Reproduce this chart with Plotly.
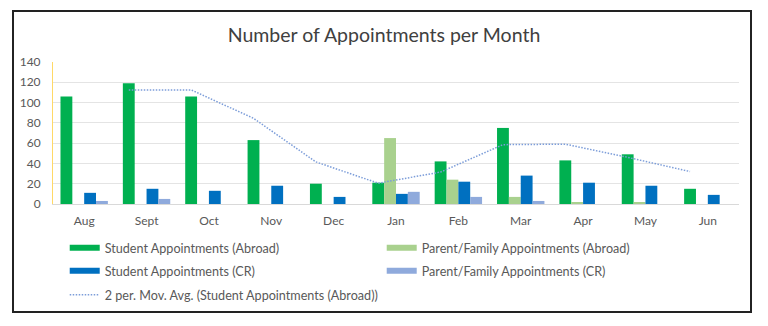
import plotly.graph_objects as go

months = ["Aug", "Sept", "Oct", "Nov", "Dec", "Jan", "Feb", "Mar", "Apr", "May", "Jun"]
student_abroad = [106, 119, 106, 63, 20, 21, 42, 75, 43, 49, 15]
parent_abroad = [None, None, None, None, None, 65, 24, 7, 1, 1, None]
student_cr = [11, 15, 13, 18, 7, 10, 22, 28, 21, 18, 9]
parent_cr = [3, 5, None, None, None, 12, 7, 3, None, None, None]
mov_avg = [None, 112.5, 112.5, 84.5, 41.5, 20.5, 31.5, 58.5, 59, 46, 32]
y_ticks = [0, 20, 40, 60, 80, 100, 120, 140]

names = ["Student Appointments (Abroad)", "Parent/Family Appointments (Abroad)",
         "Student Appointments (CR)", "Parent/Family Appointments (CR)"]
colors = ["#00B050", "#A9D18E", "#0070C0", "#8FAADC"]
series = [student_abroad, parent_abroad, student_cr, parent_cr]
legend_rows = ["legend", "legend", "legend2", "legend2"]

FONT = "Lato, 'Open Sans', sans-serif"
fig = go.Figure()
for nm, col, vals, lg in zip(names, colors, series, legend_rows):
    fig.add_trace(go.Bar(x=months, y=vals, name=nm, marker=dict(color=col, line=dict(width=0)),
                         showlegend=False, legendgroup=nm))
    fig.add_trace(go.Scatter(x=[None], y=[None], mode="lines", name=nm, legendgroup=nm,
                             legend=lg, line=dict(color=col, width=6)))

fig.add_trace(go.Scatter(x=months, y=mov_avg, mode="lines", xaxis="x2", legend="legend3",
                         name="2 per. Mov. Avg. (Student Appointments (Abroad))",
                         line=dict(color="#7C9DD9", width=1.5, dash="1.5px,1.5px")))

n = len(months)
shift = 0.285
leg_common = dict(orientation="h", x=0.02 - 2 / 686, xanchor="left", yanchor="middle",
                  entrywidth=272, entrywidthmode="pixels", traceorder="normal",
                  font=dict(size=12.6, color="#595959"), bgcolor="rgba(0,0,0,0)")
fig.update_layout(
    width=768, height=326,
    margin=dict(l=53, r=29, t=62, b=122),
    paper_bgcolor="white", plot_bgcolor="white",
    font=dict(family=FONT, color="#595959", size=12),
    title=dict(text="Number of Appointments per Month", x=0.5, xref="container", xanchor="center",
               y=1 - 35 / 326, yanchor="middle",
               font=dict(family=FONT, size=19.5, color="#404040")),
    barmode="group", bargap=0.24, bargroupgap=0,
    xaxis=dict(type="category", range=[-0.5, n - 0.5], showgrid=False, showline=True,
               linecolor="#D9D9D9", linewidth=1, ticks="", ticklabelstandoff=6,
               tickfont=dict(size=12, color="#595959")),
    xaxis2=dict(type="category", range=[-0.5 + shift, n - 0.5 + shift], overlaying="x",
                visible=False),
    yaxis=dict(range=[0, 140], tickvals=y_ticks, showgrid=True, gridcolor="#E4E4E4", gridwidth=1,
               showline=True, linecolor="#FFD966", linewidth=1, ticks="", zeroline=False,
               ticklabelstandoff=9, tickfont=dict(size=12, color="#595959")),
    legend=dict(leg_common, y=(204 - 248) / 142),
    legend2=dict(leg_common, y=(204 - 271) / 142),
    legend3=dict(leg_common, y=(204 - 295) / 142),
    shapes=[dict(type="rect", xref="paper", yref="paper", x0=-0.0583, x1=1.0175,
                 y0=-0.7606, y1=1.359, line=dict(color="#222222", width=2))],
)
fig.write_html("out.html")
